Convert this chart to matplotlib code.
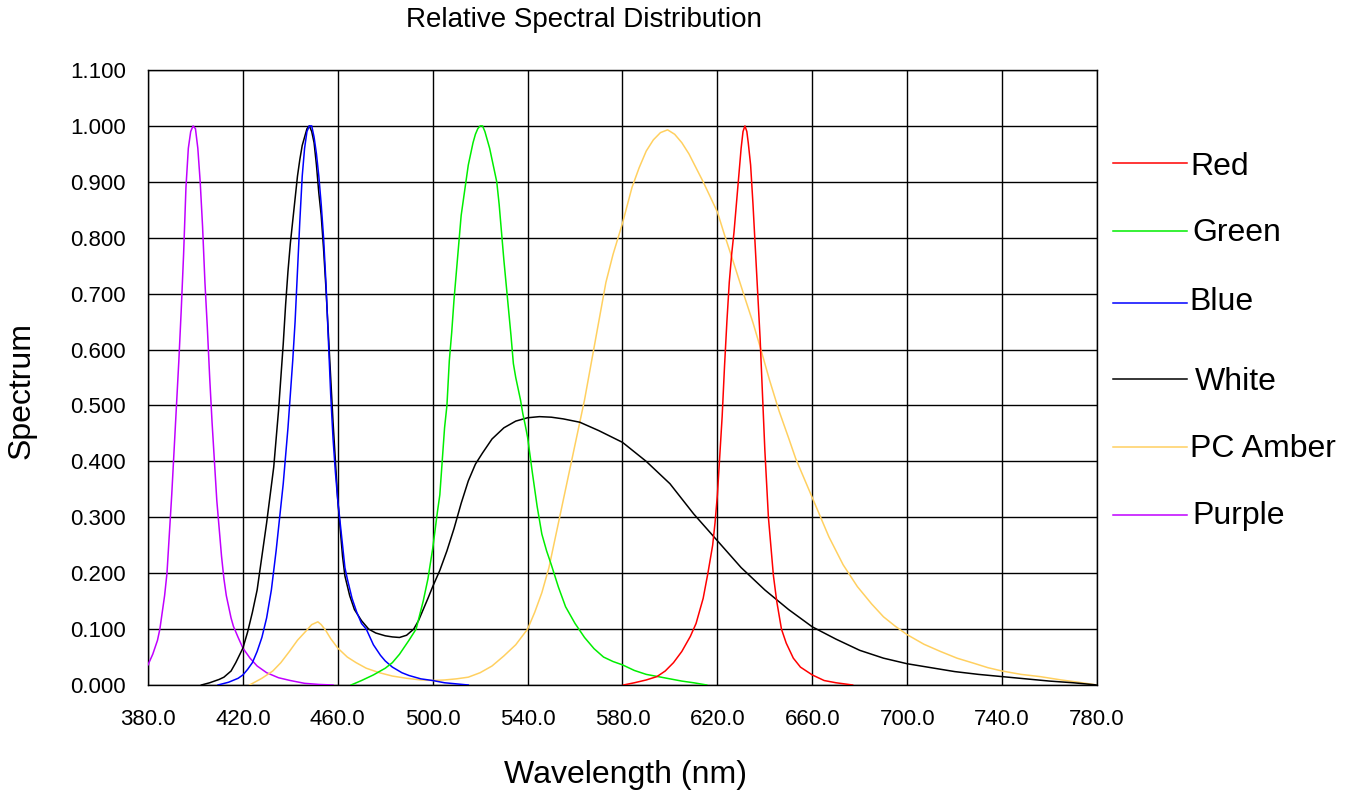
import matplotlib
matplotlib.use("Agg")
import matplotlib.pyplot as plt
from matplotlib.lines import Line2D

plt.rcParams['font.family'] = ['Liberation Sans', 'DejaVu Sans']

# ---------------- data ----------------
purple_wl = [380, 382, 384, 385, 386, 387, 388, 389, 390, 391, 392, 393, 394, 395, 396, 397, 398, 399,
             400, 401, 402, 403, 404, 405, 406, 407, 408, 409, 410, 411, 412, 413, 414, 415, 416, 417,
             418, 420, 423, 426, 430, 435, 440, 446, 452, 458]
purple_val = [0.036, 0.055, 0.08, 0.1, 0.13, 0.16, 0.2, 0.27, 0.34, 0.42, 0.5, 0.58, 0.67, 0.77, 0.89,
              0.96, 0.99, 1.0, 0.995, 0.96, 0.9, 0.82, 0.72, 0.64, 0.55, 0.47, 0.4, 0.33, 0.28, 0.23,
              0.19, 0.16, 0.14, 0.12, 0.105, 0.095, 0.085, 0.066, 0.048, 0.034, 0.022, 0.013, 0.008,
              0.003, 0.001, 0.0]

blue_wl = [409.5, 414, 418, 420, 422, 424, 426, 428, 430, 432, 434, 435.5, 437, 438, 439, 440, 441,
           442, 443, 444, 445, 446, 447, 448, 449, 450, 451, 452, 453, 454, 455, 456, 457, 458, 459,
           460, 461, 462, 463, 464, 466, 468, 470, 472, 475, 478, 480, 483, 487, 490, 495, 500, 505,
           510, 515]
blue_val = [0.0, 0.005, 0.012, 0.018, 0.028, 0.04, 0.06, 0.085, 0.12, 0.17, 0.24, 0.3, 0.36, 0.41,
            0.46, 0.52, 0.58, 0.65, 0.74, 0.83, 0.91, 0.96, 0.99, 1.0, 1.0, 0.98, 0.95, 0.91, 0.86,
            0.8, 0.72, 0.62, 0.52, 0.44, 0.38, 0.33, 0.29, 0.25, 0.21, 0.19, 0.155, 0.13, 0.11, 0.1,
            0.072, 0.053, 0.043, 0.032, 0.022, 0.017, 0.011, 0.008, 0.004, 0.002, 0.0]

white_wl = [402.5, 406, 410, 412, 415, 417, 420, 422, 424, 426, 428, 430, 431.5, 433, 434, 435, 436,
            437, 438, 439, 440, 441, 442, 443, 444, 445, 446, 447, 448, 449, 450, 451, 452, 453, 454,
            455, 456, 457, 458, 459, 460, 461, 462, 463, 465, 467, 470, 473, 476, 480, 483, 486, 489,
            492, 494, 496, 498, 500, 503, 506, 509, 512, 515, 518, 521, 525, 530, 535, 540, 545, 550,
            555, 562, 570, 580, 590, 600, 610, 620, 630, 640, 650, 660, 670, 680, 690, 700, 710, 720,
            730, 740, 750, 760, 770, 780]
white_val = [0.0, 0.004, 0.01, 0.014, 0.025, 0.04, 0.066, 0.095, 0.13, 0.17, 0.23, 0.29, 0.34, 0.39,
             0.44, 0.49, 0.55, 0.61, 0.68, 0.74, 0.79, 0.83, 0.87, 0.91, 0.94, 0.965, 0.98, 0.995, 1.0,
             0.99, 0.97, 0.93, 0.88, 0.84, 0.78, 0.71, 0.63, 0.55, 0.47, 0.4, 0.33, 0.28, 0.23, 0.195,
             0.16, 0.135, 0.115, 0.1, 0.093, 0.088, 0.086, 0.085, 0.089, 0.1, 0.115, 0.135, 0.155,
             0.176, 0.205, 0.24, 0.28, 0.325, 0.365, 0.395, 0.415, 0.44, 0.46, 0.472, 0.478, 0.48,
             0.479, 0.476, 0.47, 0.455, 0.434, 0.4, 0.36, 0.306, 0.258, 0.21, 0.17, 0.135, 0.104,
             0.082, 0.062, 0.048, 0.038, 0.031, 0.024, 0.019, 0.015, 0.011, 0.007, 0.004, 0.0]

green_wl = [465.6, 470, 475, 480, 483, 486, 490, 493, 496, 498, 500, 502, 503, 504, 505, 506, 507, 508,
            509, 510, 511, 512, 513, 514, 515, 516, 517, 518, 519, 520, 521, 522, 523, 524, 525, 526,
            527, 528, 529, 530, 531, 532, 533, 534, 535, 536, 537, 538, 539, 540, 542, 544, 546, 548,
            550, 553, 556, 560, 564, 568, 572, 576, 580, 585, 590, 595, 600, 605, 610, 615.5]
green_val = [0.0, 0.008, 0.018, 0.03, 0.04, 0.055, 0.08, 0.1, 0.15, 0.19, 0.244, 0.31, 0.34, 0.4, 0.46,
             0.5, 0.58, 0.63, 0.69, 0.74, 0.79, 0.84, 0.87, 0.9, 0.93, 0.95, 0.97, 0.985, 0.995, 1.0,
             1.0, 0.99, 0.975, 0.96, 0.94, 0.92, 0.9, 0.86, 0.81, 0.76, 0.715, 0.67, 0.625, 0.575,
             0.55, 0.53, 0.51, 0.485, 0.465, 0.443, 0.38, 0.32, 0.27, 0.24, 0.215, 0.175, 0.14, 0.11,
             0.085, 0.065, 0.05, 0.042, 0.036, 0.026, 0.019, 0.015, 0.011, 0.007, 0.004, 0.0]

red_wl = [580.4, 585, 590, 594.5, 598, 601.5, 605, 608.6, 611, 614, 616, 618, 619, 620, 621, 622, 623,
          624, 625, 626, 627, 628, 629, 630, 630.8, 631.6, 632.4, 633, 634, 635, 636, 637, 638, 639,
          640, 641.5, 643.6, 645, 647, 649, 652, 655, 660, 665, 670, 677]
red_val = [0.0, 0.004, 0.009, 0.015, 0.025, 0.04, 0.06, 0.087, 0.11, 0.155, 0.2, 0.25, 0.29, 0.34, 0.41,
           0.48, 0.57, 0.65, 0.72, 0.77, 0.81, 0.86, 0.91, 0.96, 0.99, 1.0, 0.99, 0.97, 0.93, 0.86,
           0.78, 0.7, 0.62, 0.52, 0.42, 0.3, 0.196, 0.15, 0.1, 0.075, 0.048, 0.032, 0.018, 0.008,
           0.004, 0.0]

amber_wl = [422.8, 428, 432.6, 436, 439.6, 443, 446.7, 449, 451.6, 453, 455, 457, 460, 464, 467.7, 472,
            477.5, 483, 489, 495, 500, 505, 510, 515, 520, 525, 530, 535, 540, 543, 546, 549, 552, 555,
            558, 561, 564, 567, 570, 573, 576, 580, 584, 587, 590, 593, 596, 599, 602, 605, 608, 611,
            614, 617, 620, 623, 626.7, 631, 635, 638, 642, 646, 650, 653, 657, 660, 664, 667, 673, 679,
            685, 690, 695, 700, 707, 714, 721, 728, 734, 740, 748, 756, 765, 772, 780]
amber_val = [0.0, 0.012, 0.025, 0.04, 0.06, 0.08, 0.097, 0.108, 0.113, 0.108, 0.097, 0.083, 0.066,
             0.05, 0.04, 0.03, 0.022, 0.016, 0.012, 0.009, 0.008, 0.009, 0.011, 0.014, 0.022, 0.034,
             0.052, 0.072, 0.1, 0.13, 0.165, 0.21, 0.27, 0.33, 0.39, 0.45, 0.51, 0.58, 0.65, 0.72,
             0.77, 0.826, 0.89, 0.925, 0.955, 0.975, 0.988, 0.993, 0.985, 0.97, 0.95, 0.925, 0.9, 0.873,
             0.846, 0.805, 0.757, 0.7, 0.648, 0.605, 0.545, 0.49, 0.442, 0.405, 0.365, 0.335, 0.295,
             0.265, 0.215, 0.176, 0.145, 0.122, 0.105, 0.09, 0.073, 0.06, 0.048, 0.039, 0.031, 0.025,
             0.019, 0.015, 0.009, 0.005, 0.0]

series_names = ["Red", "Green", "Blue", "White", "PC Amber", "Purple"]
series_colors = ["#FF0000", "#00EE00", "#0000FF", "#000000", "#FFD060", "#C000FF"]
series_data = [(red_wl, red_val), (green_wl, green_val), (blue_wl, blue_val),
               (white_wl, white_val), (amber_wl, amber_val), (purple_wl, purple_val)]

x_ticks = [380, 420, 460, 500, 540, 580, 620, 660, 700, 740, 780]
y_ticks = [0.0, 0.1, 0.2, 0.3, 0.4, 0.5, 0.6, 0.7, 0.8, 0.9, 1.0, 1.1]

# ---------------- figure ----------------
W, H = 1363, 796
fig = plt.figure(figsize=(W / 100, H / 100), dpi=100)
fig.patch.set_facecolor("white")
ax = fig.add_axes([148 / W, 1 - 685 / H, (1097 - 148) / W, (685 - 70) / H])

for name, color, (wl, val) in reversed(list(zip(series_names, series_colors, series_data))):
    ax.plot(wl, val, color=color, lw=1.1, zorder=3)

ax.set_xlim(380, 780)
ax.set_ylim(0, 1.1)
ax.set_xticks(x_ticks)
ax.set_xticklabels([f"{v:.1f}" for v in x_ticks], fontsize=16)
ax.set_yticks(y_ticks)
ax.set_yticklabels([f"{v:.3f}" for v in y_ticks], fontsize=16)
ax.tick_params(axis="both", length=0)
ax.tick_params(axis="x", pad=17)
ax.tick_params(axis="y", pad=16)
ax.grid(True, color="black", lw=1.0, zorder=1)
ax.set_axisbelow(True)
for sp in ax.spines.values():
    sp.set_color("black")
    sp.set_linewidth(1.0)

fig.text(584 / W, 1 - 20 / H, "Relative Spectral Distribution", fontsize=20,
         ha="center", va="center")
fig.text(625 / W, 1 - 775 / H, "Wavelength (nm)", fontsize=23, ha="center", va="center")
fig.text(22 / W, 1 - 391 / H, "Spectrum", fontsize=23, rotation=90, ha="center", va="center")

leg_line_y = [163, 231, 303, 379, 447, 515]
leg_text_y = [167, 233, 302, 382, 449, 516]
leg_text_x = [1190, 1192, 1189, 1195, 1190, 1192]
for name, color, ly, ty, tx in zip(series_names, series_colors, leg_line_y, leg_text_y, leg_text_x):
    fig.add_artist(Line2D([1113 / W, 1187 / W], [1 - ly / H, 1 - ly / H],
                          transform=fig.transFigure, color=color, lw=1.1))
    fig.text(tx / W, 1 - ty / H, name, fontsize=23, ha="left", va="center")

fig.savefig("out.png", dpi=100)
